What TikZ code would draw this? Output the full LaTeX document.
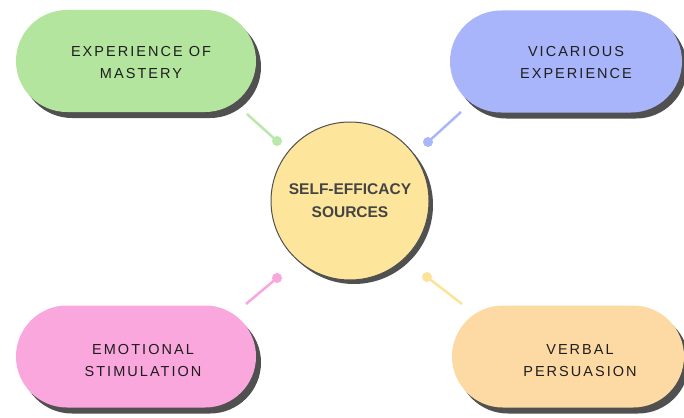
\documentclass[tikz,border=0pt]{standalone}
\usepackage{fontspec}
\setmainfont{Liberation Sans}
\usetikzlibrary{shadows}
\definecolor{cgreen}{HTML}{B4E59F}
\definecolor{cblue}{HTML}{A9B5FB}
\definecolor{cpink}{HTML}{F9A7DC}
\definecolor{corange}{HTML}{FDD9A3}
\definecolor{cyellow}{HTML}{FDE69C}
\definecolor{lgreen}{HTML}{B9E8AA}
\definecolor{lblue}{HTML}{AAB6FA}
\definecolor{lpink}{HTML}{F8A8DC}
\definecolor{lyellow}{HTML}{FCE39A}
\definecolor{shadowc}{HTML}{505050}
\definecolor{textc}{HTML}{1E1E1E}
\definecolor{ctext}{HTML}{444444}
\begin{document}
\begin{tikzpicture}[x=1pt,y=-1pt,
  pill/.style={rounded corners=51pt, minimum height=102pt, inner sep=0pt,
    drop shadow={shadow xshift=5pt, shadow yshift=-6pt, fill=shadowc, opacity=1}},
  pilltext/.style={font=\fontsize{14.5}{22}\selectfont\addfontfeatures{LetterSpace=14},
    text=textc, align=center, inner sep=0pt},
  hub/.style={circle, minimum size=158pt, inner sep=0pt, fill=cyellow, draw=shadowc, line width=1pt,
    drop shadow={shadow xshift=4pt, shadow yshift=-4pt, fill=shadowc, opacity=1},
    font=\fontsize{15.5}{23}\selectfont\bfseries, text=ctext, align=center},
  dot/.style={circle, minimum size=10pt, inner sep=0pt, fill=#1},
  link/.style={line width=2.5pt, draw=#1}]
\useasboundingbox (0,0) rectangle (684,417);
\fill[white] (0,0) rectangle (684,417);

% pills
\node[pill, fill=cgreen, minimum width=240pt] (pgreen) at (136,61) {};
\node[pill, fill=cblue, minimum width=232pt] (pblue) at (566,61.5) {};
\node[pill, fill=cpink, minimum width=240pt] (ppink) at (136,356.5) {};
\node[pill, fill=corange, minimum width=232pt] (porange) at (568,356.5) {};

\node[pilltext] (tgreen) at (141,63) {EXPERIENCE OF\\MASTERY};
\node[pilltext] (tblue) at (576,63) {VICARIOUS\\EXPERIENCE};
\node[pilltext] (tpink) at (143,361) {EMOTIONAL\\STIMULATION};
\node[pilltext] (torange) at (580,361) {VERBAL\\PERSUASION};

% hub
\node[hub] (hub) at (350,201) {SELF-EFFICACY\\SOURCES};

% connectors
\coordinate (egreen) at (247,114);
\coordinate (eblue) at (461,112);
\coordinate (epink) at (246,304);
\coordinate (eyellow) at (462,304);
\node[dot=lgreen] (dgreen) at (277,141) {};
\node[dot=lblue] (dblue) at (428,142) {};
\node[dot=lpink] (dpink) at (277,278) {};
\node[dot=lyellow] (dyellow) at (427,277) {};
\draw[link=lgreen] (egreen) -- (dgreen.center);
\draw[link=lblue] (eblue) -- (dblue.center);
\draw[link=lpink] (epink) -- (dpink.center);
\draw[link=lyellow] (eyellow) -- (dyellow.center);
\end{tikzpicture}
\end{document}
